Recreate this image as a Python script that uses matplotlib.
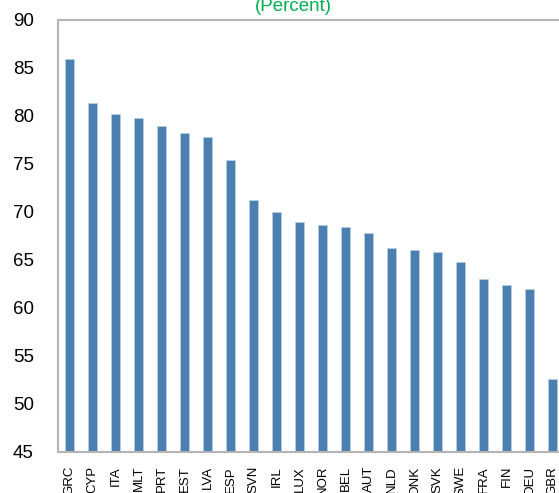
import matplotlib
matplotlib.use("Agg")
import matplotlib.pyplot as plt

countries = ["GRC", "CYP", "ITA", "MLT", "PRT", "EST", "LVA", "ESP", "SVN", "IRL", "LUX",
             "NOR", "BEL", "AUT", "NLD", "DNK", "SVK", "SWE", "FRA", "FIN", "DEU", "GBR"]
values = [85.9, 81.4, 80.2, 79.8, 79.0, 78.2, 77.8, 75.4, 71.2, 70.0, 69.0,
          68.6, 68.4, 67.8, 66.2, 66.0, 65.8, 64.8, 63.0, 62.4, 62.0, 52.6]
yticks = [45, 50, 55, 60, 65, 70, 75, 80, 85, 90]

plt.rcParams['font.family'] = ['Liberation Sans', 'DejaVu Sans']

W, H = 559, 493
fig = plt.figure(figsize=(W / 100, H / 100), dpi=100)
left, right, top, bottom = 57.5, 564.0, 20.0, 452.0
ax = fig.add_axes([left / W, 1 - bottom / H, (right - left) / W, (bottom - top) / H])

x = list(range(len(countries)))
ax.bar(x, values, width=0.42, color='#4a7fb0', edgecolor='#b8cfe6', linewidth=0.6, zorder=2)

ax.set_xlim(-0.52, len(countries) - 0.5)
ax.set_ylim(45, 90)
ax.set_yticks(yticks)
ax.set_yticklabels([str(t) for t in yticks], fontsize=13.5)
ax.set_xticks(x)
ax.set_xticklabels(countries, rotation=90, fontsize=9.5, va='top', ha='center')
ax.tick_params(axis='y', length=0, pad=17)
ax.tick_params(axis='x', length=0, pad=10)

for s in ax.spines.values():
    s.set_color('#b4b4b4')
    s.set_linewidth(1.5)

fig.text(293.5 / W, 1 - 11 / H, "(Percent)", color='#00b050', fontsize=13.5,
         ha='center', va='baseline')

fig.savefig("out.png", dpi=100)
